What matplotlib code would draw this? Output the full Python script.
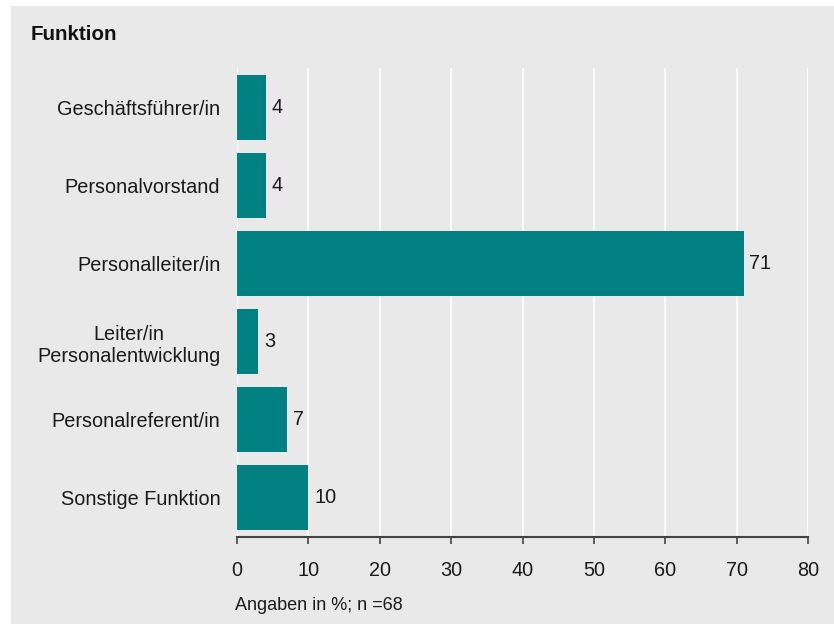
import matplotlib.pyplot as plt
from matplotlib.patches import Rectangle

# data
categories = ["Geschäftsführer/in", "Personalvorstand", "Personalleiter/in",
              "Leiter/in\nPersonalentwicklung", "Personalreferent/in", "Sonstige Funktion"]
values = [4, 4, 71, 3, 7, 10]
x_ticks = [0, 10, 20, 30, 40, 50, 60, 70, 80]

plt.rcParams['font.family'] = ['Liberation Sans', 'DejaVu Sans']

BG = "#e9e9e9"
TEAL = "#008080"
FS = 14.3

fig = plt.figure(figsize=(8.34, 6.24), dpi=100, facecolor="white")
fig.patches.append(Rectangle((11 / 834, 0), 1, 1 - 6 / 624, transform=fig.transFigure,
                             facecolor=BG, edgecolor="none", zorder=-10))

ax = fig.add_axes([237 / 834, 1 - 537 / 624, (808 - 237) / 834, (537 - 68) / 624])
ax.set_facecolor(BG)

pos = list(range(len(categories)))
ax.barh(pos, values, height=0.83, color=TEAL, zorder=3)
for p, v in zip(pos, values):
    ax.text(v + 0.8, p, str(v), va="center", ha="left", fontsize=FS, color="#1a1a1a")

ax.set_ylim(5.5, -0.5)
ax.set_xlim(0, 80)
ax.set_xticks(x_ticks)
ax.set_yticks(pos)
ax.set_yticklabels(categories, fontsize=FS, color="#1a1a1a", linespacing=1.25)
ax.tick_params(axis="y", length=0, pad=12)
ax.tick_params(axis="x", length=5, width=1.2, color="#444444", labelsize=FS,
               labelcolor="#1a1a1a", pad=12)
for lbl in ax.get_yticklabels():
    lbl.set_multialignment("center")

ax.grid(axis="x", color="white", linewidth=1.2, zorder=1)
ax.set_axisbelow(True)
for s in ["top", "right", "left"]:
    ax.spines[s].set_visible(False)
ax.spines["bottom"].set_color("#444444")
ax.spines["bottom"].set_linewidth(1.5)

fig.text(31 / 834, 1 - 34 / 624, "Funktion", fontsize=14.8, fontweight="bold",
         va="center", ha="left", color="#111111")
fig.text(235 / 834, 1 - 605 / 624, "Angaben in %; n =68", fontsize=13,
         va="center", ha="left", color="#1a1a1a")

fig.savefig("out.png", dpi=100, facecolor=fig.get_facecolor())
